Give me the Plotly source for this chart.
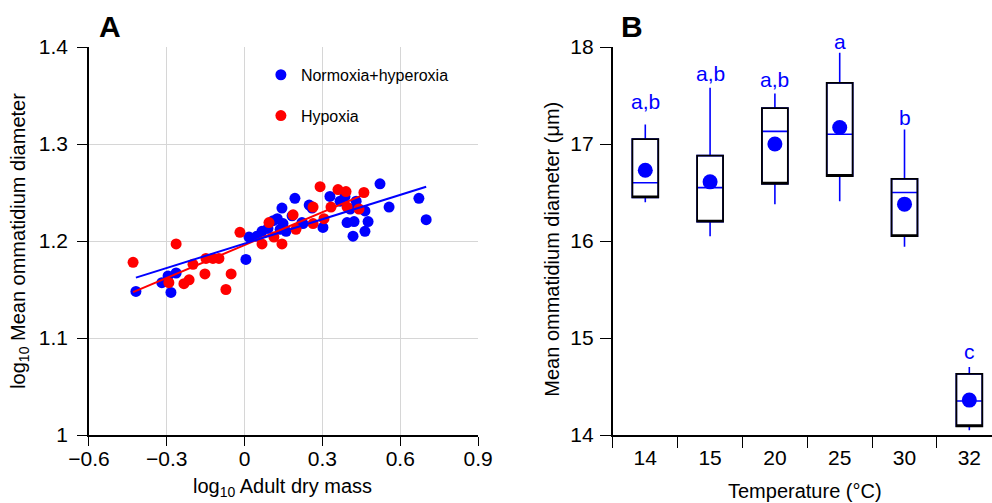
import numpy as np
import plotly.graph_objects as go

# ---------------- Panel A data (log10 values) ----------------
blue_x = [-0.419, -0.319, -0.295, -0.264, -0.284, 0.005, 0.017, 0.048, 0.067, 0.110,
          0.144, 0.148, 0.137, 0.194, 0.183, 0.221, 0.260, 0.302, 0.329, 0.368,
          0.387, 0.407, 0.430, 0.395, 0.422, 0.418, 0.464, 0.476, 0.464, 0.522,
          0.557, 0.672, 0.700, 0.249, 0.126, 0.160, 0.090, 0.225]
blue_y = [1.148, 1.157, 1.164, 1.167, 1.147, 1.181, 1.204, 1.205, 1.210, 1.221,
          1.234, 1.218, 1.212, 1.244, 1.226, 1.219, 1.234, 1.214, 1.246, 1.241,
          1.246, 1.233, 1.241, 1.219, 1.220, 1.205, 1.231, 1.220, 1.210, 1.259,
          1.235, 1.244, 1.222, 1.237, 1.223, 1.210, 1.213, 1.218]

red_x = [-0.430, -0.264, -0.292, -0.234, -0.214, -0.199, -0.153, -0.149, -0.122, -0.099,
         -0.052, -0.072, -0.018, 0.067, 0.094, 0.113, 0.144, 0.187, 0.198, 0.264,
         0.264, 0.291, 0.306, 0.333, 0.360, 0.391, 0.395, 0.441, 0.460]
red_y = [1.178, 1.197, 1.157, 1.156, 1.160, 1.176, 1.166, 1.182, 1.182, 1.182,
         1.166, 1.150, 1.209, 1.197, 1.219, 1.204, 1.197, 1.227, 1.212, 1.235,
         1.218, 1.256, 1.223, 1.235, 1.253, 1.251, 1.235, 1.233, 1.250]

x_ticks_a = [-0.6, -0.3, 0, 0.3, 0.6, 0.9]
y_ticks_a = [1, 1.1, 1.2, 1.3, 1.4]

# ---------------- Panel B data (µm) ----------------
temps = ["14", "15", "20", "25", "30", "32"]
q1 = [16.45, 16.20, 16.59, 16.67, 16.05, 14.09]
med = [16.60, 16.55, 17.13, 17.10, 16.50, 14.35]
q3 = [17.05, 16.88, 17.37, 17.63, 16.64, 14.63]
lo = [16.40, 16.05, 16.38, 16.41, 15.94, 14.05]
hi = [17.20, 17.58, 17.52, 17.94, 17.15, 14.70]
means = [16.73, 16.61, 17.00, 17.17, 16.38, 14.36]
letters = ["a,b", "a,b", "a,b", "a", "b", "c"]
letter_y = [17.44, 17.73, 17.67, 18.06, 17.27, 14.86]

Y2_RANGE = [14, 18]

BLUE = "#0000ff"
RED = "#ff0000"
FONT = "Liberation Sans, Arial, sans-serif"

fig = go.Figure()

fig.add_trace(go.Scatter(x=blue_x, y=blue_y, mode="markers", name="Normoxia+hyperoxia",
                         legendgroup="g1",
                         marker=dict(color=BLUE, size=11), xaxis="x", yaxis="y"))
fig.add_trace(go.Scatter(x=red_x, y=red_y, mode="markers", name="Hypoxia",
                         legendgroup="g2",
                         marker=dict(color=RED, size=11), xaxis="x", yaxis="y"))

for xs, ys, col in [(red_x, red_y, RED), (blue_x, blue_y, BLUE)]:
    k, b = np.polyfit(xs, ys, 1)
    lx = np.array([min(xs), max(xs)])
    fig.add_trace(go.Scatter(x=lx, y=k * lx + b, mode="lines", showlegend=False,
                             line=dict(color=col, width=2), xaxis="x", yaxis="y"))

fig.add_trace(go.Box(x=temps, q1=q1, median=med, q3=q3, lowerfence=lo, upperfence=hi,
                     width=0.4, whiskerwidth=0, fillcolor="white",
                     line=dict(color=BLUE, width=1.6), showlegend=False,
                     boxpoints=False, xaxis="x2", yaxis="y2"))
fig.add_trace(go.Box(x=temps, q1=q1, median=q1, q3=q3, lowerfence=q1, upperfence=q3,
                     width=0.4, whiskerwidth=0, fillcolor="rgba(0,0,0,0)",
                     line=dict(color="black", width=1.8), showlegend=False,
                     boxpoints=False, xaxis="x2", yaxis="y2"))
fig.add_trace(go.Scatter(x=temps, y=means, mode="markers", showlegend=False,
                         marker=dict(color=BLUE, size=15), xaxis="x2", yaxis="y2"))

annotations = []
for i, (lab, ly) in enumerate(zip(letters, letter_y)):
    # y expressed as a fraction of the B panel's y range (domain spans the full paper height)
    frac = (ly - Y2_RANGE[0]) / (Y2_RANGE[1] - Y2_RANGE[0])
    annotations.append(dict(x=i, y=frac, xref="x2", yref="paper", text=lab, showarrow=False,
                            font=dict(color=BLUE, size=21, family=FONT),
                            xanchor="center", yanchor="middle"))

def paper_text(text, x, y, size, angle=0):
    return dict(x=x, y=y, xref="paper", yref="paper", text=text, showarrow=False,
                textangle=angle, font=dict(size=size, color="black", family=FONT),
                xanchor="center", yanchor="middle")

annotations += [
    paper_text("<b>A</b>", 0.111, 1.052, 30),
    paper_text("<b>B</b>", 0.637, 1.052, 30),
    paper_text("log<sub>10</sub> Adult dry mass", 0.285, -0.135, 20),
    paper_text("log<sub>10</sub> Mean ommatidium diameter", 0.019, 0.50, 20, -90),
    paper_text("Temperature (°C)", 0.8115, -0.145, 20),
    paper_text("Mean ommatidium diameter (μm)", 0.557, 0.479, 20, -90),
]

axis_common = dict(showline=True, linecolor="black", linewidth=1.5, ticks="outside",
                   tickwidth=1.2, tickcolor="black", zeroline=False, automargin=False,
                   tickfont=dict(size=21, color="black", family=FONT))

fig.update_layout(
    width=992, height=503,
    margin=dict(l=0, r=0, t=47, b=68),
    paper_bgcolor="white", plot_bgcolor="white",
    font=dict(family=FONT, color="black"),
    boxmode="overlay",
    showlegend=True,
    legend=dict(x=0.263, y=0.972, xanchor="left", yanchor="top",
                font=dict(size=16, family=FONT, color="black"),
                tracegroupgap=17, bgcolor="rgba(0,0,0,0)"),
    xaxis=dict(domain=[0.0897, 0.4819], range=[-0.6, 0.9], tickvals=x_ticks_a,
               showgrid=True, gridcolor="#d6d6d6", gridwidth=1.2, ticklen=9,
               ticklabelstandoff=-5, **axis_common),
    yaxis=dict(domain=[0, 1], range=[1, 1.4], tickvals=y_ticks_a,
               showgrid=True, gridcolor="#d6d6d6", gridwidth=1.2, ticklen=10,
               ticklabelstandoff=5, **axis_common),
    xaxis2=dict(domain=[0.6175, 1.0], type="category", categoryorder="array",
                categoryarray=temps, range=[-0.505, 5.35], tickson="boundaries",
                showgrid=False, anchor="y2", ticklen=11, ticklabelstandoff=3,
                **axis_common),
    yaxis2=dict(domain=[0, 1], range=Y2_RANGE, dtick=1, showgrid=False, anchor="x2",
                ticklen=11, ticklabelstandoff=2, **axis_common),
    annotations=annotations,
)

fig.write_html("out.html", config={"displayModeBar": False},
               post_script="document.body.style.margin='0px';document.body.style.overflow='hidden';")
